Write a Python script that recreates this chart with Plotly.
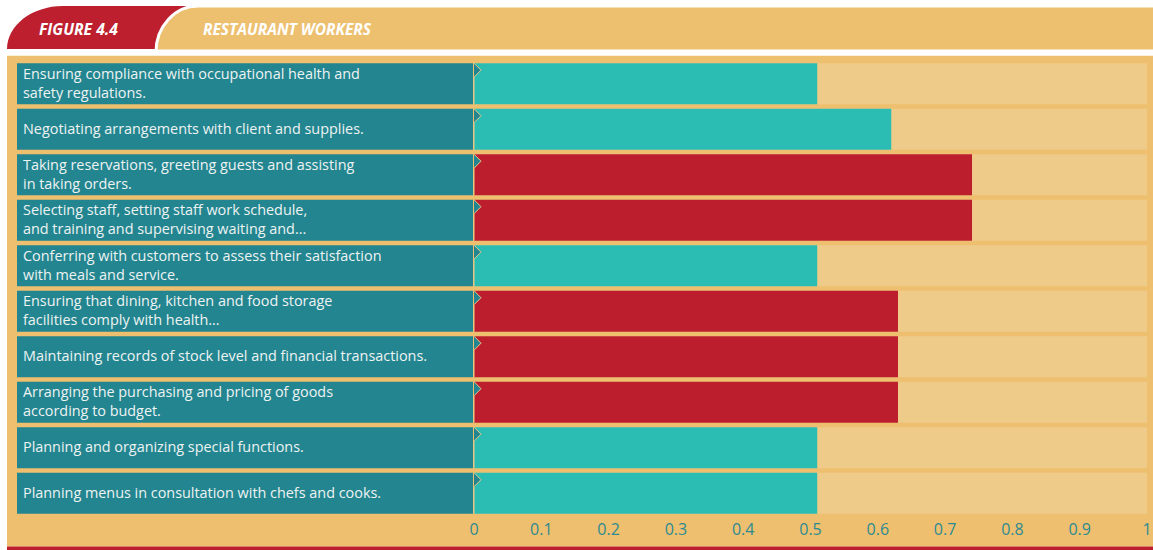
import plotly.graph_objects as go

# Duties of restaurant workers and the share attached to each one
duties = [
    "Ensuring compliance with occupational health and<br>safety regulations.",
    "Negotiating arrangements with client and supplies.",
    "Taking reservations, greeting guests and assisting<br>in taking orders.",
    "Selecting staff, setting staff work schedule,<br>and training and supervising waiting and...",
    "Conferring with customers to assess their satisfaction<br>with meals and service.",
    "Ensuring that dining, kitchen and food storage<br>facilities comply with health...",
    "Maintaining records of stock level and financial transactions.",
    "Arranging the purchasing and pricing of goods<br>according to budget.",
    "Planning and organizing special functions.",
    "Planning menus in consultation with chefs and cooks.",
]
shares = [0.51, 0.62, 0.74, 0.74, 0.51, 0.63, 0.63, 0.63, 0.51, 0.51]
highlighted = [False, False, True, True, False, True, True, True, False, False]
tick_values = [0, 0.1, 0.2, 0.3, 0.4, 0.5, 0.6, 0.7, 0.8, 0.9, 1]
tick_labels = ["0", "0.1", "0.2", "0.3", "0.4", "0.5", "0.6", "0.7", "0.8", "0.9", "1"]
figure_number = "FIGURE 4.4"
figure_title = "RESTAURANT WORKERS"

W, H = 1153, 550
AXIS_MAX = 1.0
PX_PER_UNIT = 673.0           # horizontal scale of the value axis
ZERO_PX = 474.0               # where the value axis starts
LABEL_START = (17 - ZERO_PX) / PX_PER_UNIT
LABEL_END = -1 / PX_PER_UNIT
PLOT_TOP, PLOT_BOTTOM = 55, 517
ROW0_CENTER, ROW_PITCH = 83.7, 45.5

PANEL = "#EDBF6F"
TRACK = "#EECB88"
TEAL = "#23858F"
CYAN = "#2BBCB4"
RED = "#BC1E2D"
TICK_COLOR = "#2E8A92"
FONT = "Open Sans"

n = len(duties)
rows = list(range(n))
bar_w = 41 / ROW_PITCH


# paper coordinates are relative to the plot area
def px(x):
    return x / W


def py(y):
    return (PLOT_BOTTOM - y) / (PLOT_BOTTOM - PLOT_TOP)


fig = go.Figure()

# teal label boxes on the left
fig.add_trace(go.Bar(
    y=rows, x=[LABEL_END - LABEL_START] * n, base=[LABEL_START] * n,
    orientation="h", width=bar_w, marker=dict(color=TEAL, line=dict(width=0)),
    hoverinfo="skip", showlegend=False,
))
# full-scale track behind every bar
fig.add_trace(go.Bar(
    y=rows, x=[AXIS_MAX] * n, base=[0] * n, orientation="h", width=bar_w,
    marker=dict(color=TRACK, line=dict(width=0)), hoverinfo="skip", showlegend=False,
))
# the values themselves
fig.add_trace(go.Bar(
    y=rows, x=shares, base=[0] * n, orientation="h", width=bar_w,
    marker=dict(color=[RED if h else CYAN for h in highlighted], line=dict(width=0)),
    showlegend=False, hovertemplate="%{x}<extra></extra>",
))

shapes = []
# beige panel and the red rule under it
shapes.append(dict(type="rect", xref="paper", yref="paper", layer="below",
                   x0=px(7), x1=px(W), y0=py(546.5), y1=py(55.5),
                   fillcolor=PANEL, line=dict(width=0)))
shapes.append(dict(type="rect", xref="paper", yref="paper", layer="below",
                   x0=px(7), x1=px(W), y0=py(551), y1=py(546.5),
                   fillcolor=RED, line=dict(width=0)))

# header tabs
k = 0.5523


def tab_path(x_left, x_corner, x_right, top, bottom):
    rx = x_corner - x_left
    ry = bottom - top
    pts = [
        f"M {px(x_left)},{py(bottom)}",
        f"C {px(x_left)},{py(bottom - ry * k)} {px(x_corner - rx * k)},{py(top)} {px(x_corner)},{py(top)}",
        f"L {px(x_right)},{py(top)}",
        f"L {px(x_right)},{py(bottom)}",
        "Z",
    ]
    return " ".join(pts)


shapes.append(dict(type="path", xref="paper", yref="paper", layer="below",
                   path=tab_path(7, 63, 230, 6, 49), fillcolor="#BD1F2E",
                   line=dict(width=0)))
shapes.append(dict(type="path", xref="paper", yref="paper", layer="below",
                   path=tab_path(156, 198, W + 5, 6, 52), fillcolor="#EDC070",
                   line=dict(color="white", width=3)))
# white gap between header and panel (covers the tab's lower stroke)
shapes.append(dict(type="rect", xref="paper", yref="paper", layer="below",
                   x0=px(0), x1=px(W), y0=py(55.5), y1=py(49.5),
                   fillcolor="white", line=dict(width=0)))

# small pointer where each label box meets its bar
tip = 7 / PX_PER_UNIT
for r in rows:
    top = r - bar_w / 2
    bottom = r + bar_w / 2
    shapes.append(dict(
        type="path", xref="x", yref="y", layer="above",
        path=(f"M 0,{top} L {tip},{top + 7 / ROW_PITCH} L 0,{top + 14 / ROW_PITCH} "
              f"L 0,{bottom}"),
        fillcolor=TEAL, line=dict(color="#E9C98C", width=1),
    ))

annotations = []
for r, text in zip(rows, duties):
    annotations.append(dict(
        x=LABEL_START, y=r, xref="x", yref="y", xanchor="left", yanchor="middle",
        xshift=4, yshift=1, text=text, showarrow=False, align="left",
        font=dict(family=FONT, size=14.4, color="#EEF3F3"),
    ))
annotations.append(dict(
    x=px(37), y=py(29), xref="paper", yref="paper", xanchor="left", yanchor="middle",
    text=figure_number, showarrow=False,
    font=dict(family=FONT, size=15.7, color="white", weight="bold", style="italic"),
))
annotations.append(dict(
    x=px(201), y=py(29), xref="paper", yref="paper", xanchor="left", yanchor="middle",
    text=figure_title, showarrow=False,
    font=dict(family=FONT, size=15.5, color="white", weight="bold", style="italic"),
))

y_top = (PLOT_TOP - ROW0_CENTER) / ROW_PITCH
y_bottom = (PLOT_BOTTOM - ROW0_CENTER) / ROW_PITCH

fig.update_layout(
    width=W, height=H, autosize=False,
    margin=dict(l=0, r=0, t=PLOT_TOP, b=H - PLOT_BOTTOM, pad=0),
    paper_bgcolor="white", plot_bgcolor="rgba(0,0,0,0)",
    barmode="overlay",
    shapes=shapes, annotations=annotations,
    xaxis=dict(range=[-ZERO_PX / PX_PER_UNIT, (W - ZERO_PX) / PX_PER_UNIT],
               tickvals=tick_values, ticktext=tick_labels,
               tickfont=dict(family=FONT, size=16, color=TICK_COLOR),
               ticklabelstandoff=1,
               showgrid=False, zeroline=False, showline=False, ticks="",
               fixedrange=True),
    yaxis=dict(range=[y_bottom, y_top], showticklabels=False, showgrid=False,
               zeroline=False, showline=False, ticks="", fixedrange=True),
    font=dict(family=FONT),
)

fig.write_html("out.html")
